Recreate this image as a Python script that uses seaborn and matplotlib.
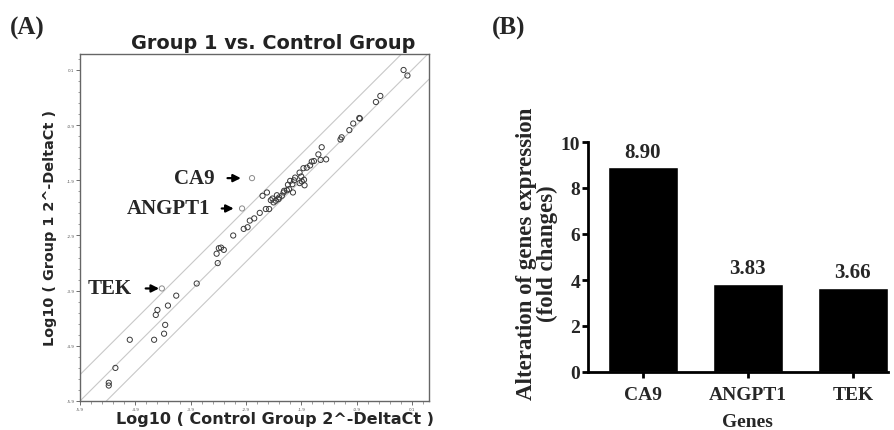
import numpy as np
import pandas as pd
import matplotlib
matplotlib.use('Agg')
import matplotlib.pyplot as plt
import seaborn as sns

# (A) log10(2^-dCt): control group (x) vs group 1 (y), one point per gene
ctrl_log = [-0.05, 0.02, -0.47, -0.55, -0.85, -0.84, -0.96, -1.03, -1.17, -1.19,
            -1.53, -1.59, -1.55, -1.45, -1.67, -1.71, -1.74, -1.80, -1.86, -1.93,
            -1.90, -1.85, -1.89, -1.93, -1.84, -2.01, -2.03, -2.10, -2.06, -2.14,
            -2.12, -2.16, -2.21, -2.22, -2.05, -2.25, -2.30, -2.34, -2.31, -2.36,
            -2.42, -2.45, -2.40, -2.52, -2.60, -2.54, -2.48, -2.65, -2.75, -2.83,
            -2.87, -2.94, -3.13, -3.35, -3.39, -3.30, -3.43, -3.41, -3.79, -4.16,
            -4.31, -4.50, -4.53, -4.36, -4.38, -4.56, -5.00, -5.26, -5.38, -5.38]
grp1_log = [0.10, 0.00, -0.37, -0.48, -0.77, -0.78, -0.87, -0.99, -1.12, -1.16,
            -1.30, -1.43, -1.53, -1.52, -1.55, -1.56, -1.63, -1.67, -1.68, -1.76,
            -1.83, -1.89, -1.92, -1.95, -1.99, -1.85, -1.90, -1.91, -1.97, -1.98,
            -2.06, -2.08, -2.09, -2.12, -2.12, -2.18, -2.21, -2.17, -2.24, -2.27,
            -2.23, -2.26, -2.30, -2.12, -2.18, -2.42, -2.42, -2.49, -2.59, -2.63,
            -2.75, -2.78, -2.90, -3.12, -3.13, -3.16, -3.23, -3.40, -3.77, -3.99,
            -4.17, -4.25, -4.34, -4.52, -4.68, -4.79, -4.79, -5.30, -5.57, -5.62]

# genes above the 3-fold boundary
genes = ['CA9', 'ANGPT1', 'TEK']
genes_ctrl = [-2.79, -2.97, -4.42]
genes_grp1 = [-1.86, -2.41, -3.86]
fold_cutoff = 3

# (B) fold changes
fold_change = [8.90, 3.83, 3.66]

axis_ticks = [-5.9, -4.9, -3.9, -2.9, -1.9, -0.9, 0.1]
bar_ticks = [0, 2, 4, 6, 8, 10]

sns.set_style('ticks')
plt.rcParams['font.family'] = ['DejaVu Sans']
serif = 'Liberation Serif'

fig = plt.figure(figsize=(8.94, 4.31), dpi=100)
axA = fig.add_axes([80 / 894, 29 / 431, 349 / 894, 347 / 431])
axB = fig.add_axes([588 / 894, 58 / 431, 300 / 894, 230 / 431])

# ---- panel A
df_a = pd.DataFrame({'ctrl': ctrl_log, 'grp1': grp1_log})
sns.scatterplot(data=df_a, x='ctrl', y='grp1', ax=axA, marker='o', s=14,
                facecolors='none', edgecolors='#3a3a3a', linewidths=0.7)
df_g = pd.DataFrame({'ctrl': genes_ctrl, 'grp1': genes_grp1, 'gene': genes})
sns.scatterplot(data=df_g, x='ctrl', y='grp1', ax=axA, marker='o', s=14,
                facecolors='none', edgecolors='#8a8a8a', linewidths=0.7)

off = np.log10(fold_cutoff)
for b in [off, 0, -off]:
    axA.axline((0, b), slope=1, color='#c8c8c8', lw=0.8, zorder=0)

axA.set_xlim(-5.9, 0.41)
axA.set_ylim(-5.9, 0.39)
axA.set_xticks(axis_ticks)
axA.set_yticks(axis_ticks)
axA.set_xticks(np.arange(-5.9, 0.4, 0.2), minor=True)
axA.set_yticks(np.arange(-5.9, 0.4, 0.2), minor=True)
axA.set_xticklabels([str(t) for t in axis_ticks])
axA.set_yticklabels([str(t) for t in axis_ticks])
axA.tick_params(which='major', direction='out', length=3, width=0.6,
                color='#555555', labelsize=3, labelcolor='#555555', pad=1)
axA.tick_params(which='minor', direction='out', length=1.8, width=0.5, color='#777777')
for s in axA.spines.values():
    s.set_color('#666666')
    s.set_linewidth(1.0)

axA.set_xlabel('Log10 ( Control Group 2^-DeltaCt )', fontsize=11.5, fontweight='bold')
axA.xaxis.set_label_coords(0.56, -0.03)
axA.set_ylabel('Log10 ( Group 1 2^-DeltaCt )', fontsize=10.4, fontweight='bold')
axA.yaxis.set_label_coords(-0.065, 0.5)
fig.text(273 / 894, 1 - 44 / 431, 'Group 1 vs. Control Group', ha='center',
         va='center', fontsize=13.9, fontweight='bold', color='#222222')

# labels with arrows
txt_off = [27, 23, 22]
shrink_a = [7, 6, 8]
shrink_b = [8, 6, 2]
for g, x, y, o, sa, sb in zip(genes, genes_ctrl, genes_grp1, txt_off, shrink_a, shrink_b):
    axA.annotate(g, xy=(x, y), xytext=(-o, 0), textcoords='offset points',
                 ha='right', va='center', fontsize=15, fontweight='bold', family=serif,
                 arrowprops=dict(arrowstyle='-|>', color='black', lw=1.6,
                                 mutation_scale=11, shrinkA=sa, shrinkB=sb))

# ---- panel B
df_b = pd.DataFrame({'gene': genes, 'fold': fold_change})
sns.barplot(data=df_b, x='gene', y='fold', color='black', saturation=1,
            width=0.67, ax=axB)
axB.bar_label(axB.containers[0], fmt='%.2f', padding=4, fontsize=15,
              fontweight='bold', family=serif)
axB.set_xlim(-0.524, 2.335)
axB.set_ylim(0, 10)
axB.set_yticks(bar_ticks)
sns.despine(ax=axB)
for s in ['left', 'bottom']:
    axB.spines[s].set_linewidth(2)
    axB.spines[s].set_color('black')
axB.tick_params(direction='out', length=4, width=2, color='black', labelsize=14)
for lab in axB.get_xticklabels() + axB.get_yticklabels():
    lab.set_family(serif)
    lab.set_fontweight('bold')
axB.tick_params(axis='x', pad=6)
axB.tick_params(axis='y', pad=1.5)
axB.set_xlabel('Genes', fontsize=14, fontweight='bold', family=serif)
axB.xaxis.set_label_coords((1 + 0.524) / 2.859, -0.18)
axB.set_ylabel('Alteration of genes expression\n(fold changes)', fontsize=16.5,
               fontweight='bold', family=serif, linespacing=1.0)
axB.yaxis.set_label_coords(-0.10, 0.52)

fig.text(10 / 894, 1 - 28 / 431, '(A)', ha='left', va='center', fontsize=18,
         fontweight='bold', family=serif)
fig.text(492 / 894, 1 - 28 / 431, '(B)', ha='left', va='center', fontsize=18,
         fontweight='bold', family=serif)

fig.savefig('out.png', dpi=100)
